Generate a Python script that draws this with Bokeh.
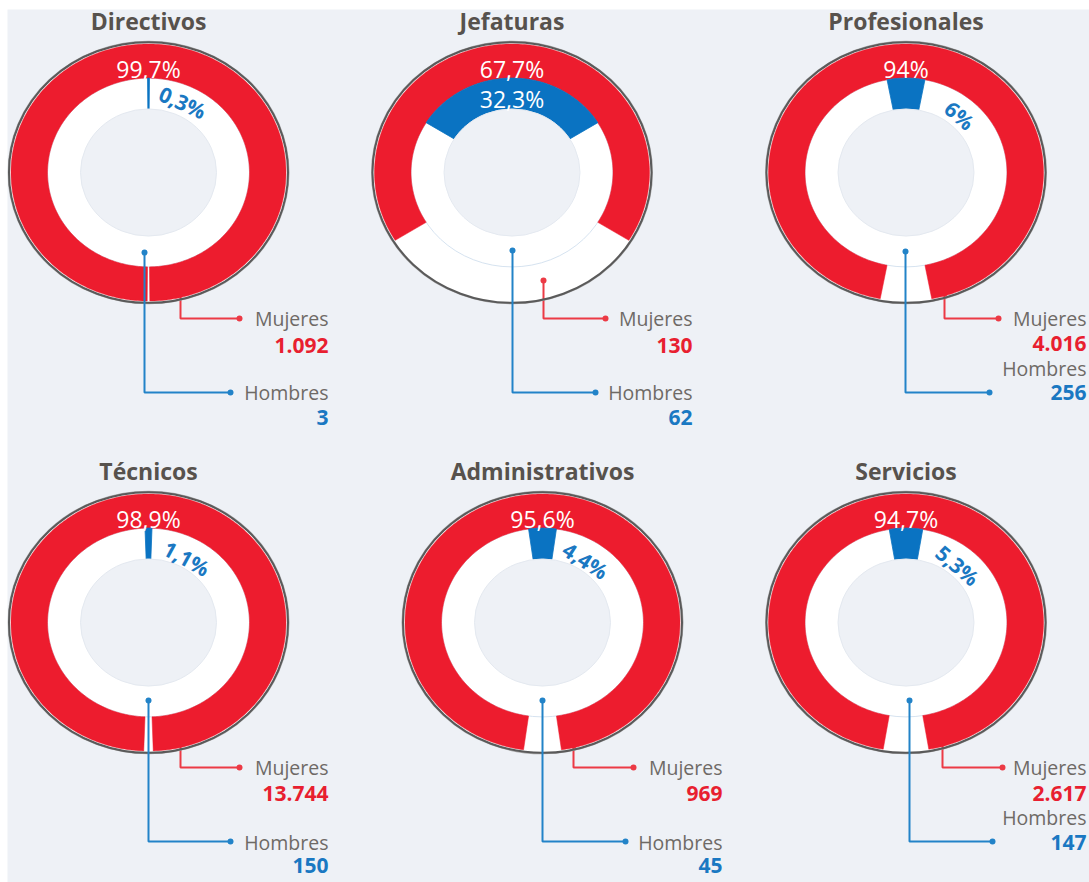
import math
from bokeh.plotting import figure
from bokeh.models import Range1d
from bokeh.core.properties import value
from bokeh.embed import file_html
from bokeh.resources import INLINE

# ---------------- data ----------------
categorias = ["Directivos", "Jefaturas", "Profesionales", "Técnicos", "Administrativos", "Servicios"]
mujeres = [1092, 130, 4016, 13744, 969, 2617]
hombres = [3, 62, 256, 150, 45, 147]
pct_mujeres = [99.7, 67.7, 94.0, 98.9, 95.6, 94.7]
pct_hombres = [0.3, 32.3, 6.0, 1.1, 4.4, 5.3]
etiqueta_mujeres = "Mujeres"
etiqueta_hombres = "Hombres"

# ---------------- layout (pixel positions in the page) ----------------
cx_list = [148, 511.5, 905.5, 148, 542, 905.5]
cy_list = [172, 172, 172, 622, 622, 622]
title_y = [20, 20, 20, 470, 470, 470]
red_start = [(180, 293), (543, 280), (944, 293), (180, 743), (573, 745), (942, 743)]
red_elbow_y = [318, 318, 318, 767, 767, 767]
red_end_x = [239, 605, 998, 239, 633, 1002]
blue_start = [(144, 252), (512, 250), (905, 251), (148, 700), (542, 700), (909, 700)]
blue_elbow_y = [392, 392, 392, 841, 841, 841]
blue_end_x = [230, 595, 989, 230, 625, 992]
text_right = [328, 692, 1086, 328, 722, 1086]
y_muj_label = [318, 318, 318, 767, 767, 767]
y_muj_num = [345, 345, 343, 793, 793, 793]
y_hom_label = [392, 392, 368, 842, 842, 817]
y_hom_num = [417, 417, 392, 865, 865, 842]
blue_lbl_pos = [(182, 102), (511.5, 98), (959, 115), (186, 558), (585, 560), (957, 565)]

K = 1.07          # horizontal / vertical stretch of the rings
R_OUT = 139.5
R_RED_OUT = 137.5
R_RED_IN = 101
R_DISK = 68

BG = "#eef1f6"
RED = "#ed1c2e"
BLUE = "#0a73c2"
RED_TXT = "#e81f30"
BLUE_TXT = "#1a78c2"
GRAY_TXT = "#6e6a66"
TITLE = "#57524d"
RED_LINE = "#ec3a45"
BLUE_LINE = "#2283c8"
FONT = value("Open Sans")

W, H = 1089, 882
LEFT, TOP = 7, 9
p = figure(width=W, height=H, x_range=Range1d(LEFT, W), y_range=Range1d(H, TOP),
           x_axis_location=None, y_axis_location=None, toolbar_location=None,
           output_backend="svg", min_border_left=LEFT, min_border_top=TOP,
           min_border_right=0, min_border_bottom=0)
p.grid.visible = False
p.outline_line_color = None
p.background_fill_color = BG
p.border_fill_color = "white"


def sector(cx, cy, r0, r1, frac):
    half = frac * math.pi
    n = max(6, int(frac * 360))
    angs = [-half + 2 * half * i / n for i in range(n + 1)]
    xs = [cx + r1 * math.sin(a) for a in angs] + [cx + r0 * math.sin(a) for a in reversed(angs)]
    ys = [cy - r1 / K * math.cos(a) for a in angs] + [cy - r0 / K * math.cos(a) for a in reversed(angs)]
    return xs, ys


def fmt_pct(v):
    return f"{v:g}".replace(".", ",") + "%"


def fmt_num(n):
    return f"{n:,}".replace(",", ".")


# base white discs
p.ellipse(x=cx_list, y=cy_list, width=2 * R_OUT, height=2 * R_OUT / K,
          fill_color="white", line_color=None)
p.ellipse(x=cx_list, y=cy_list, width=2 * R_RED_IN, height=2 * R_RED_IN / K,
          fill_color=None, line_color="#d6e3f0", line_width=1)

# red callout lines (drawn under the red ring)
rl_xs, rl_ys, bl_xs, bl_ys = [], [], [], []
for i in range(len(categorias)):
    sx, sy = red_start[i]
    rl_xs.append([sx, sx, red_end_x[i]]); rl_ys.append([sy, red_elbow_y[i], red_elbow_y[i]])
    sx, sy = blue_start[i]
    bl_xs.append([sx, sx, blue_end_x[i]]); bl_ys.append([sy, blue_elbow_y[i], blue_elbow_y[i]])
p.multi_line(rl_xs, rl_ys, line_color=RED_LINE, line_width=2)
p.scatter(x=[s[0] for s in red_start] + red_end_x, y=[s[1] for s in red_start] + red_elbow_y,
          size=6, fill_color=RED_LINE, line_color=None)

# rings
red_xs, red_ys, blue_xs, blue_ys = [], [], [], []
for i in range(len(categorias)):
    xs, ys = sector(cx_list[i], cy_list[i], R_RED_IN, R_RED_OUT, pct_mujeres[i] / 100)
    red_xs.append(xs); red_ys.append(ys)
    xs, ys = sector(cx_list[i], cy_list[i], R_DISK, R_RED_IN, pct_hombres[i] / 100)
    blue_xs.append(xs); blue_ys.append(ys)
p.patches(red_xs, red_ys, fill_color=RED, line_color=RED, line_width=0.5)
p.patches(blue_xs, blue_ys, fill_color=BLUE, line_color=BLUE, line_width=0.8)
p.ellipse(x=cx_list, y=cy_list, width=2 * R_DISK, height=2 * R_DISK / K,
          fill_color=BG, line_color="#e4e9f0", line_width=1)

# outer rim
p.ellipse(x=cx_list, y=cy_list, width=2 * R_OUT + 1.5, height=2 * R_OUT / K + 1.5,
          fill_color=None, line_color="#a8a8a8", line_width=1.5)
p.ellipse(x=cx_list, y=cy_list, width=2 * R_OUT, height=2 * R_OUT / K,
          fill_color=None, line_color="#5a5a5a", line_width=2)

# blue callout lines
p.multi_line(bl_xs, bl_ys, line_color=BLUE_LINE, line_width=2)
p.scatter(x=[s[0] for s in blue_start] + blue_end_x, y=[s[1] for s in blue_start] + blue_elbow_y,
          size=6, fill_color=BLUE_LINE, line_color=None)

# titles
p.text(x=cx_list, y=title_y, text=categorias, text_font=FONT, text_font_style="bold",
       text_font_size="23px", text_color=TITLE, text_align="center", text_baseline="middle")

# women percent labels
p.text(x=cx_list, y=[c - 104 for c in cy_list], text=[fmt_pct(v) for v in pct_mujeres],
       text_font=FONT, text_font_size="23px", text_color="white",
       text_align="center", text_baseline="middle")

# men percent labels
for i in range(len(categorias)):
    bx, by = blue_lbl_pos[i]
    dx = bx - cx_list[i]
    dy = (cy_list[i] - by) * K
    ang = -math.degrees(math.atan2(dx, dy))
    inside = pct_hombres[i] > 20
    p.text(x=[bx], y=[by], text=[fmt_pct(pct_hombres[i])], text_font=FONT,
           text_font_style="normal" if inside else "bold",
           text_font_size="23px" if inside else "21px",
           text_color="white" if inside else BLUE_TXT,
           angle=0 if inside else ang, angle_units="deg",
           text_align="center", text_baseline="middle")

# side labels
p.text(x=text_right, y=y_muj_label, text=[etiqueta_mujeres] * 6, text_font=FONT,
       text_font_size="19.5px", text_color=GRAY_TXT, text_align="right", text_baseline="middle")
p.text(x=text_right, y=y_hom_label, text=[etiqueta_hombres] * 6, text_font=FONT,
       text_font_size="19.5px", text_color=GRAY_TXT, text_align="right", text_baseline="middle")
p.text(x=text_right, y=y_muj_num, text=[fmt_num(n) for n in mujeres], text_font=FONT,
       text_font_style="bold", text_font_size="21px", text_color=RED_TXT,
       text_align="right", text_baseline="middle")
p.text(x=text_right, y=y_hom_num, text=[fmt_num(n) for n in hombres], text_font=FONT,
       text_font_style="bold", text_font_size="21px", text_color=BLUE_TXT,
       text_align="right", text_baseline="middle")

open("out.html", "w").write(file_html(p, INLINE))
